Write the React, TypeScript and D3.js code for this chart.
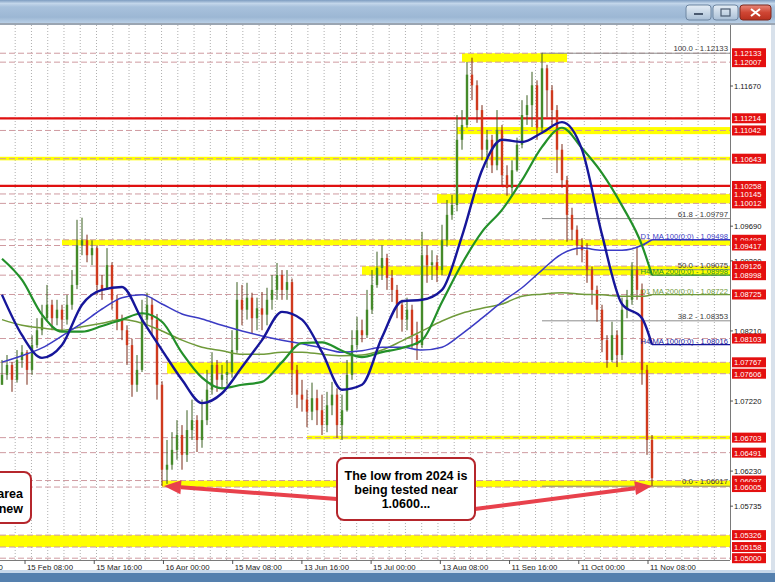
import * as d3 from 'd3';

// EURUSD bars, left to right
const closes = [
  1.0759, 1.0773, 1.0752, 1.0780, 1.0791, 1.0766, 1.0801, 1.0822, 1.0839, 1.0858,
  1.0839, 1.0851, 1.0837, 1.0858, 1.0886, 1.0942, 1.0949, 1.0928, 1.0938, 1.0886,
  1.0879, 1.0914, 1.0865, 1.0837, 1.0822, 1.0801, 1.0745, 1.0766, 1.0837, 1.0858,
  1.0837, 1.0745, 1.0625, 1.0632, 1.0653, 1.0674, 1.0646, 1.0681, 1.0695, 1.0667,
  1.0695, 1.0738, 1.0773, 1.0752, 1.0759, 1.0763, 1.0794, 1.0865, 1.0851, 1.0868,
  1.0839, 1.0853, 1.0844, 1.0865, 1.0879, 1.0900, 1.0879, 1.0890, 1.0766, 1.0731,
  1.0724, 1.0707, 1.0726, 1.0709, 1.0688, 1.0716, 1.0731, 1.0688, 1.0709, 1.0759,
  1.0801, 1.0822, 1.0815, 1.0851, 1.0886, 1.0910, 1.0924, 1.0896, 1.0879, 1.0858,
  1.0837, 1.0851, 1.0815, 1.0801, 1.0928, 1.0914, 1.0918, 1.0907, 1.0949, 1.0985,
  1.0999, 1.1091, 1.1112, 1.1183, 1.1168, 1.1133, 1.1077, 1.1091, 1.1055, 1.1105,
  1.1041, 1.1023, 1.1048, 1.1084, 1.1126, 1.1140, 1.1168, 1.1108, 1.1192, 1.1161,
  1.1133, 1.1077, 1.1034, 1.0985, 1.0964, 1.0942, 1.0935, 1.0907, 1.0879, 1.0851,
  1.0808, 1.0780, 1.0815, 1.0787, 1.0851, 1.0865, 1.0907, 1.0879, 1.0766, 1.0667,
  1.0613,
];
const highs = [
  1.0780, 1.0787, 1.0777, 1.0794, 1.0801, 1.0794, 1.0815, 1.0839, 1.0858, 1.0886,
  1.0865, 1.0865, 1.0858, 1.0872, 1.0907, 1.0978, 1.0981, 1.0957, 1.0949, 1.0942,
  1.0900, 1.0938, 1.0918, 1.0872, 1.0844, 1.0829, 1.0810, 1.0787, 1.0865, 1.0875,
  1.0868, 1.0845, 1.0750, 1.0667, 1.0678, 1.0695, 1.0688, 1.0709, 1.0724, 1.0702,
  1.0724, 1.0766, 1.0791, 1.0780, 1.0773, 1.0780, 1.0822, 1.0890, 1.0886, 1.0889,
  1.0875, 1.0868, 1.0876, 1.0882, 1.0900, 1.0917, 1.0907, 1.0907, 1.0895, 1.0773,
  1.0752, 1.0738, 1.0748, 1.0738, 1.0731, 1.0735, 1.0749, 1.0740, 1.0731, 1.0780,
  1.0822, 1.0841, 1.0837, 1.0879, 1.0907, 1.0933, 1.0942, 1.0930, 1.0907, 1.0886,
  1.0865, 1.0868, 1.0858, 1.0834, 1.0961, 1.0942, 1.0935, 1.0928, 1.0971, 1.1006,
  1.1013, 1.1126, 1.1133, 1.1201, 1.1207, 1.1175, 1.1140, 1.1105, 1.1098, 1.1133,
  1.1112, 1.1055, 1.1062, 1.1094, 1.1147, 1.1154, 1.1187, 1.1175, 1.1214, 1.1197,
  1.1168, 1.1140, 1.1085, 1.1040, 1.0995, 1.0970, 1.0952, 1.0945, 1.0912, 1.0885,
  1.0858, 1.0815, 1.0834, 1.0822, 1.0868, 1.0879, 1.0918, 1.0940, 1.0888, 1.0773,
  1.0674,
];
const lows = [
  1.0745, 1.0752, 1.0735, 1.0748, 1.0769, 1.0745, 1.0759, 1.0797, 1.0815, 1.0837,
  1.0822, 1.0829, 1.0822, 1.0830, 1.0851, 1.0880, 1.0928, 1.0918, 1.0914, 1.0872,
  1.0865, 1.0879, 1.0851, 1.0822, 1.0808, 1.0773, 1.0728, 1.0735, 1.0763, 1.0829,
  1.0815, 1.0724, 1.0602, 1.0605, 1.0625, 1.0639, 1.0625, 1.0636, 1.0667, 1.0650,
  1.0656, 1.0688, 1.0731, 1.0735, 1.0740, 1.0745, 1.0755, 1.0790, 1.0829, 1.0837,
  1.0818, 1.0822, 1.0822, 1.0829, 1.0851, 1.0865, 1.0865, 1.0865, 1.0731, 1.0712,
  1.0707, 1.0685, 1.0695, 1.0688, 1.0674, 1.0678, 1.0702, 1.0670, 1.0667, 1.0707,
  1.0752, 1.0795, 1.0805, 1.0811, 1.0845, 1.0882, 1.0893, 1.0879, 1.0862, 1.0839,
  1.0820, 1.0822, 1.0797, 1.0780, 1.0797, 1.0889, 1.0893, 1.0890, 1.0900, 1.0940,
  1.0978, 1.0990, 1.1077, 1.1108, 1.1147, 1.1115, 1.1062, 1.1051, 1.1044, 1.1048,
  1.1027, 1.1012, 1.1013, 1.1046, 1.1079, 1.1112, 1.1109, 1.1091, 1.1100, 1.1123,
  1.1112, 1.1044, 1.1023, 1.0947, 1.0949, 1.0928, 1.0918, 1.0889, 1.0858, 1.0834,
  1.0791, 1.0769, 1.0777, 1.0770, 1.0780, 1.0839, 1.0858, 1.0865, 1.0745, 1.0646,
  1.0602,
];
const firstOpen = 1.0745;

// moving averages, sampled at these bar indexes
const maBars = [0, 4, 8, 12, 16, 20, 24, 28, 32, 36, 40, 44, 48, 52, 56, 60, 64, 68, 72, 76, 80, 84, 88, 92, 96, 100, 104, 108, 112, 116, 120, 124, 128, 130];
const maFast100 = [
  1.0872, 1.0815, 1.0783, 1.0801, 1.0858, 1.0879, 1.0883, 1.0837, 1.0794, 1.0752,
  1.0719, 1.0733, 1.0770, 1.0808, 1.0848, 1.0837, 1.0791, 1.0738, 1.0745, 1.0812,
  1.0863, 1.0865, 1.0879, 1.0955, 1.1048, 1.1091, 1.1088, 1.1101, 1.1116, 1.1077,
  1.0957, 1.0859, 1.0839, 1.08016,
];
const maFast200 = [
  1.0923, 1.0893, 1.0844, 1.0820, 1.0820, 1.0828, 1.0837, 1.0846, 1.0834, 1.0790,
  1.0755, 1.0740, 1.0745, 1.0749, 1.0777, 1.0804, 1.0805, 1.0793, 1.0784, 1.0791,
  1.0797, 1.0808, 1.0862, 1.0916, 1.0961, 1.0992, 1.1034, 1.1081, 1.1108, 1.1079,
  1.1044, 1.0998, 1.0942, 1.08998,
];
const maSlow100 = [
  1.0777, 1.0786, 1.0797, 1.0814, 1.0832, 1.0852, 1.0868, 1.0872, 1.0859, 1.0845,
  1.0838, 1.0829, 1.0821, 1.0814, 1.0808, 1.0803, 1.0797, 1.0791, 1.0793, 1.0798,
  1.0798, 1.0794, 1.0798, 1.0817, 1.0839, 1.0862, 1.0882, 1.0907, 1.0930, 1.0938,
  1.0935, 1.0935, 1.0942, 1.09498,
];
const maSlow200 = [
  1.0837, 1.0829, 1.0825, 1.0822, 1.0827, 1.0832, 1.0837, 1.0832, 1.0821, 1.0808,
  1.0798, 1.0793, 1.0788, 1.0788, 1.0791, 1.0791, 1.0788, 1.0786, 1.0787, 1.0794,
  1.0807, 1.0821, 1.0835, 1.0846, 1.0853, 1.0859, 1.0870, 1.0873, 1.0875, 1.0873,
  1.0872, 1.0870, 1.0870, 1.08722,
];
const maNames = ['D1 MA 200(0;0)', 'D1 MA 100(0;0)', 'H4 MA 200(0;0)', 'H4 MA 100(0;0)'];

// horizontal levels with price tags on the axis
const levelPrices = [
  1.12133, 1.12007, 1.11214, 1.11042, 1.10643, 1.10258, 1.10145, 1.10012,
  1.09498, 1.09417, 1.09126, 1.08998, 1.08725, 1.08103, 1.07767, 1.07606,
  1.06703, 1.06491, 1.06097, 1.06005, 1.05326, 1.05158, 1.05000,
];
const redLinePrices = [1.11214, 1.10258];

// yellow zones: top, bottom, first bar, last bar (null = right edge)
const zoneTops = [1.12133, 1.11090, 1.10670, 1.10145, 1.09498, 1.09126, 1.07767, 1.06730, 1.06097, 1.05326];
const zoneBottoms = [1.12007, 1.10990, 1.10620, 1.10012, 1.09417, 1.08998, 1.07606, 1.06680, 1.06005, 1.05158];
const zoneFrom = [92, 91, -2, 87, 12, 72, 33, 61, 32, -2];
const zoneTo = [113, null, null, null, null, null, null, null, null, null];

// fibonacci retracement
const fibRatios = [100.0, 61.8, 50.0, 38.2, 0.0];
const fibPrices = [1.12133, 1.09797, 1.09075, 1.08353, 1.06017];
const fibFromBar = 108;

const priceTicks = [1.11670, 1.09690, 1.09200, 1.08210, 1.07220, 1.06230, 1.05735];
const timeLabels = [
  '16 Jan 00:00', '15 Feb 08:00', '15 Mar 16:00', '16 Apr 00:00', '15 May 08:00', '13 Jun 16:00',
  '15 Jul 00:00', '13 Aug 08:00', '11 Sep 16:00', '11 Oct 00:00', '11 Nov 08:00',
];

const W = 775;
const H = 582;
const plotTop = 25;
const plotBottom = 560;
const plotRight = 730;
const FONT = "'Liberation Sans', Arial, sans-serif";

function arrow(x1: number, y1: number, x2: number, y2: number, color: string) {
  const a = Math.atan2(y2 - y1, x2 - x1);
  const len = 17;
  const half = 7;
  const bx = x2 - len * Math.cos(a);
  const by = y2 - len * Math.sin(a);
  const p1 = [bx + half * Math.sin(a), by - half * Math.cos(a)];
  const p2 = [bx - half * Math.sin(a), by + half * Math.cos(a)];
  return (
    <g>
      <line x1={x1} y1={y1} x2={bx} y2={by} stroke={color} strokeWidth={4} />
      <polygon points={`${x2},${y2} ${p1[0]},${p1[1]} ${p2[0]},${p2[1]}`} fill={color} />
    </g>
  );
}

export default function App() {
  const x = d3.scaleLinear().domain([0, closes.length - 1]).range([2, 652]);
  const y = d3.scaleLinear().domain([1.05, 1.1167]).range([558.2, 86]);
  const xt = d3.scaleLinear().domain([0, timeLabels.length - 1]).range([-44.2, 648]);

  const maLine = d3.line<number>()
    .x((_, i) => x(maBars[i]))
    .y((d) => y(d))
    .curve(d3.curveMonotoneX);

  const bars = closes.map((c, i) => ({
    i,
    o: i === 0 ? firstOpen : closes[i - 1],
    h: highs[i],
    l: lows[i],
    c,
  }));

  const mas = [
    { vals: maSlow200, color: '#6f9a3a', width: 1.5 },
    { vals: maSlow100, color: '#3b3bc4', width: 1.5 },
    { vals: maFast200, color: '#23902a', width: 2.2 },
    { vals: maFast100, color: '#16169a', width: 2.4 },
  ];

  const gridX = d3.range(15.2, plotRight, 16.26);
  const lastX = x(closes.length - 1);

  return (
    <svg width={W} height={H} style={{ position: 'fixed', left: 0, top: 0, background: '#fff' }} fontFamily={FONT}>
      <defs>
        <clipPath id="plot">
          <rect x={0} y={plotTop} width={plotRight} height={plotBottom - plotTop} />
        </clipPath>
        <linearGradient id="title" x1="0" y1="0" x2="0" y2="1">
          <stop offset="0" stopColor="#7d9cc0" />
          <stop offset="0.15" stopColor="#c3d6ea" />
          <stop offset="0.3" stopColor="#a8c1dc" />
          <stop offset="0.75" stopColor="#9cb7d4" />
          <stop offset="1" stopColor="#b9cfe6" />
        </linearGradient>
        <linearGradient id="btn" x1="0" y1="0" x2="0" y2="1">
          <stop offset="0" stopColor="#e6eef6" />
          <stop offset="1" stopColor="#a9bfd6" />
        </linearGradient>
        <linearGradient id="close" x1="0" y1="0" x2="0" y2="1">
          <stop offset="0" stopColor="#e8887a" />
          <stop offset="0.5" stopColor="#cf4634" />
          <stop offset="1" stopColor="#b8301e" />
        </linearGradient>
      </defs>

      {/* window title bar */}
      <rect x={0} y={0} width={W} height={23} fill="url(#title)" />
      <rect x={0} y={23} width={W} height={2} fill="#9aa5b2" />
      <rect x={686} y={5} width={25} height={15} rx={3} fill="url(#btn)" stroke="#6f87a2" />
      <rect x={694} y={13} width={9} height={2} fill="#4a5a70" />
      <rect x={713} y={5} width={25} height={15} rx={3} fill="url(#btn)" stroke="#6f87a2" />
      <rect x={721} y={9} width={9} height={7} fill="none" stroke="#4a5a70" strokeWidth={1.2} />
      <rect x={740} y={5} width={31} height={15} rx={3} fill="url(#close)" stroke="#7e2a20" />
      <path d="M751,9 L760,16 M760,9 L751,16" stroke="#fff" strokeWidth={2} />

      <g clipPath="url(#plot)">
        {/* vertical grid */}
        {gridX.map((gx, i) => (
          <line key={`g${i}`} x1={gx} x2={gx} y1={plotTop} y2={plotBottom} stroke="#9a9a9a" strokeWidth={0.8} strokeDasharray="1,2" />
        ))}

        {/* yellow zones */}
        {zoneTops.map((t, i) => {
          const x0 = Math.max(0, x(zoneFrom[i]));
          const x1 = zoneTo[i] === null ? plotRight : x(zoneTo[i] as number);
          return (
            <rect key={`z${i}`} x={x0} y={y(t)} width={x1 - x0} height={Math.max(3, y(zoneBottoms[i]) - y(t))} fill="#ffff00" />
          );
        })}

        {/* dashed level lines */}
        {levelPrices.map((p, i) => (
          <line key={`l${i}`} x1={0} x2={plotRight} y1={y(p)} y2={y(p)} stroke="#cf9aa0" strokeWidth={1} strokeDasharray="6,3" />
        ))}

        {/* key red lines */}
        {redLinePrices.map((p, i) => (
          <line key={`r${i}`} x1={0} x2={plotRight} y1={y(p)} y2={y(p)} stroke="#e01010" strokeWidth={2.2} />
        ))}

        {/* fibonacci */}
        {fibPrices.map((p, i) => (
          <g key={`f${i}`}>
            <line x1={x(fibFromBar)} x2={plotRight} y1={y(p)} y2={y(p)} stroke="#8c8c8c" strokeWidth={1} />
            <text x={728} y={y(p) - 2} textAnchor="end" fontSize={7.8} fill="#3a3a3a">
              {`${fibRatios[i].toFixed(1)} - ${p.toFixed(5)}`}
            </text>
          </g>
        ))}

        {/* candles */}
        {bars.map((b) => {
          const up = b.c >= b.o;
          const bx = x(b.i);
          const top = y(Math.max(b.o, b.c));
          const bot = y(Math.min(b.o, b.c));
          return (
            <g key={`c${b.i}`}>
              <line x1={bx} x2={bx} y1={y(b.h)} y2={y(b.l)} stroke={up ? '#3a5e20' : '#7a2814'} strokeWidth={1} />
              <rect x={bx - 1.2} y={top} width={2.4} height={Math.max(1, bot - top)} fill={up ? '#458a2a' : '#cf3a1e'} />
            </g>
          );
        })}

        {/* moving averages */}
        {mas.map((m, i) => (
          <g key={`m${i}`}>
            <path d={maLine(m.vals) || ''} fill="none" stroke={m.color} strokeWidth={m.width} />
            <line x1={lastX} x2={plotRight} y1={y(m.vals[m.vals.length - 1])} y2={y(m.vals[m.vals.length - 1])} stroke={m.color} strokeWidth={1.3} />
            <text x={728} y={y(m.vals[m.vals.length - 1]) - 1} textAnchor="end" fontSize={7.6} fill={m.color}>
              {`${maNames[i]} - ${m.vals[m.vals.length - 1].toFixed(5)}`}
            </text>
          </g>
        ))}

        {/* annotations */}
        {arrow(337, 499, x(32.4), y(1.0602), '#e8414c')}
        {arrow(475, 509, x(130), y(1.0602), '#e8414c')}

        <rect x={-20} y={472} width={51} height={51} rx={7} fill="#fff" stroke="#b5262c" strokeWidth={2} />
        <text x={23} y={498} textAnchor="end" fontSize={12.5} fontWeight="bold" fill="#000">area</text>
        <text x={23} y={513} textAnchor="end" fontSize={12.5} fontWeight="bold" fill="#000">new</text>

        <rect x={337} y={458} width={138} height={62} rx={7} fill="#fff" stroke="#b5262c" strokeWidth={2} />
        <text x={406} y={479.5} textAnchor="middle" fontSize={12.5} fontWeight="bold" fill="#000">The low from 2024 is</text>
        <text x={406} y={493.5} textAnchor="middle" fontSize={12.5} fontWeight="bold" fill="#000">being tested near</text>
        <text x={406} y={507.5} textAnchor="middle" fontSize={12.5} fontWeight="bold" fill="#000">1.0600...</text>
      </g>

      {/* frame and axes */}
      <line x1={plotRight + 0.5} x2={plotRight + 0.5} y1={plotTop} y2={plotBottom} stroke="#7a7a7a" />
      <line x1={0} x2={plotRight} y1={plotBottom + 0.5} y2={plotBottom + 0.5} stroke="#7a7a7a" />

      {priceTicks.map((p, i) => (
        <g key={`t${i}`}>
          <line x1={plotRight} x2={plotRight + 3} y1={y(p)} y2={y(p)} stroke="#555" />
          <text x={734} y={y(p) + 3} fontSize={7.6} fill="#111">{p.toFixed(5)}</text>
        </g>
      ))}

      {levelPrices.map((p, i) => (
        <g key={`b${i}`}>
          <rect x={732} y={y(p) - 5} width={34} height={10} fill="#e41010" />
          <text x={734} y={y(p) + 3} fontSize={7.6} fill="#fff">{p.toFixed(5)}</text>
        </g>
      ))}

      {timeLabels.map((t, i) => (
        <g key={`x${i}`}>
          <line x1={xt(i)} x2={xt(i)} y1={plotBottom} y2={plotBottom + 4} stroke="#555" />
          <text x={xt(i) + 2} y={570} fontSize={7.8} fill="#222">{t}</text>
        </g>
      ))}

      {/* window borders */}
      <rect x={771} y={plotTop} width={4} height={547} fill="#d8e1eb" />
      <rect x={0} y={570} width={W} height={3} fill="#c8d8ea" />
      <rect x={0} y={573} width={W} height={9} fill="#5580ae" />
    </svg>
  );
}
